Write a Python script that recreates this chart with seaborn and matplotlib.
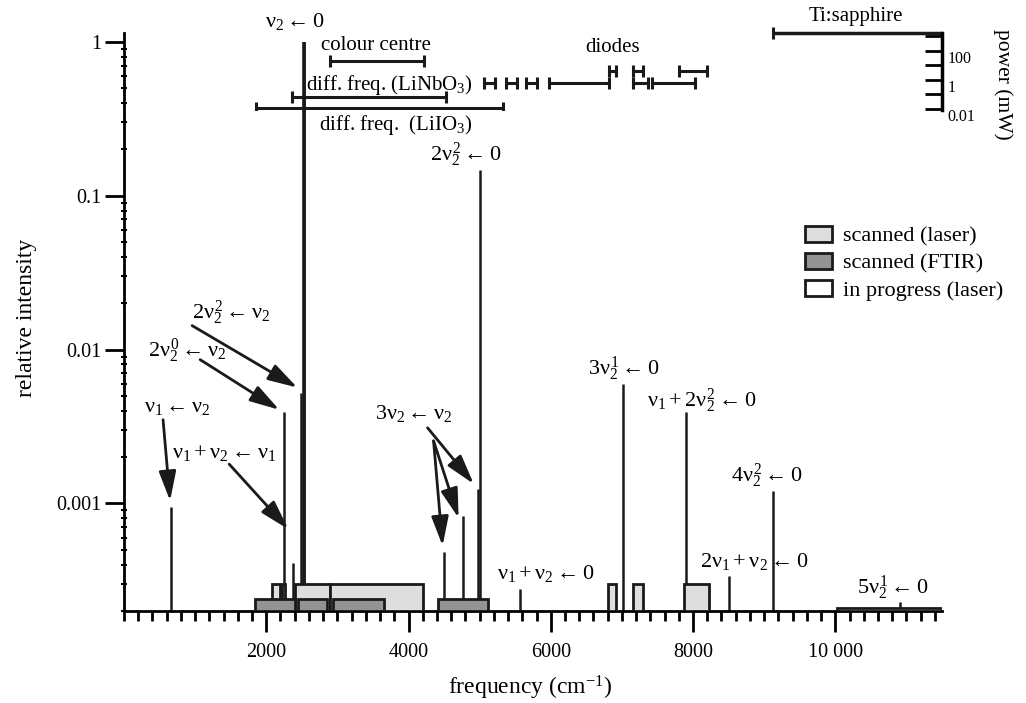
import numpy as np
import seaborn as sns
import matplotlib
matplotlib.use("Agg")
import matplotlib.pyplot as plt
from matplotlib.patches import Patch
from matplotlib.ticker import FixedLocator, FuncFormatter, LogLocator, NullFormatter, MultipleLocator

# spectral lines: frequency (cm-1) and relative intensity
line_freq = [660, 2254, 2380, 2493, 2535, 4493, 4761, 4975, 5010, 5563, 7014, 7902, 8507, 9127, 10916]
line_int = [9.5e-4, 3.9e-3, 4.1e-4, 5.25e-3, 1.0, 4.8e-4, 8.3e-4, 1.24e-3, 0.147,
            2.77e-4, 6.0e-3, 3.95e-3, 3.37e-4, 1.21e-3, 2.28e-4]

# scanned regions (cm-1)
laser_start = [2080, 2220, 2400, 2900, 6805, 7150, 7875]
laser_end = [2200, 2268, 2900, 4200, 6916, 7290, 8225]
ftir_start = [1845, 2450, 2945, 4410]
ftir_end = [2408, 2860, 3660, 5113]
progress_start = [10030]
progress_end = [11500]
laser_level = 3.0e-4
ftir_level = 2.4e-4
progress_level = 2.1e-4

# laser sources: range (cm-1) and power (mW)
source_start = [2900, 2366, 1860, 5057, 5366, 5648, 5976, 6821, 7155, 7155, 7423, 7803]
source_end = [4211, 4521, 5324, 5222, 5531, 5813, 6821, 6915, 7296, 7366, 8028, 8197]
source_power = [20, 0.067, 0.012, 0.62, 0.62, 0.62, 0.62, 4.2, 4.2, 0.62, 0.62, 4.2]
tisa_start, tisa_end, tisa_power = 9127, 11500, 1700

y_bottom = 2e-4
light = "#dedede"
dark = "#939393"

sns.set_theme(style="ticks")
plt.rcParams["font.family"] = ["Liberation Serif", "DejaVu Serif"]
plt.rcParams["mathtext.fontset"] = "custom"
plt.rcParams["mathtext.rm"] = "Liberation Serif"
plt.rcParams["mathtext.it"] = "Liberation Serif"
plt.rcParams["mathtext.bf"] = "Liberation Serif:bold"
plt.rcParams["axes.edgecolor"] = "black"
plt.rcParams["xtick.color"] = "black"
plt.rcParams["ytick.color"] = "black"
plt.rcParams["text.color"] = "black"

W, H = 1026, 703
fig = plt.figure(figsize=(W / 100, H / 100), dpi=100)


def fxy(x, y):
    return x / W, 1 - y / H


ax = fig.add_axes([124 / W, 1 - 611 / H, 818 / W, 578 / H])
ax.set_xlim(0, 11500)
ax.set_yscale("log")
ax.set_ylim(y_bottom, 1.14)

# lines
ax.vlines(line_freq, y_bottom, line_int, colors="k", lw=1.8, zorder=2)
i_max = int(np.argmax(line_int))
ax.vlines(line_freq[i_max], y_bottom, line_int[i_max], colors="k", lw=2.6, zorder=2)

# scanned regions
def regions(starts, ends, level, fc):
    ax.bar(starts, level - y_bottom, width=np.subtract(ends, starts), bottom=y_bottom,
           align="edge", color=fc, edgecolor="k", lw=2, zorder=3)

regions(laser_start, laser_end, laser_level, light)
regions(ftir_start, ftir_end, ftir_level, dark)
regions(progress_start, progress_end, progress_level, "white")

# axes style
for s in ["top", "right"]:
    ax.spines[s].set_visible(False)
for s in ["left", "bottom"]:
    ax.spines[s].set_linewidth(2)
ax.set_zorder(1)
ax.patch.set_alpha(0)
ax.xaxis.set_major_locator(FixedLocator([2000, 4000, 6000, 8000, 10000]))
ax.xaxis.set_minor_locator(MultipleLocator(200))
ax.xaxis.set_major_formatter(FuncFormatter(
    lambda v, p: f"{int(v):,}".replace(",", " ") if v >= 10000 else f"{int(v)}"))
ax.tick_params(axis="x", which="major", direction="out", length=15, width=2, labelsize=14.5, pad=8)
ax.tick_params(axis="x", which="minor", direction="out", length=7.5, width=2)
ax.yaxis.set_major_locator(FixedLocator([1e-3, 1e-2, 1e-1, 1]))
ax.yaxis.set_major_formatter(FuncFormatter(lambda v, p: f"{v:g}"))
ax.yaxis.set_minor_locator(LogLocator(base=10, subs=range(2, 10), numticks=20))
ax.yaxis.set_minor_formatter(NullFormatter())
ax.tick_params(axis="y", which="major", direction="out", length=14, width=2, labelsize=14.5, pad=2)
ax.tick_params(axis="y", which="minor", direction="inout", length=5, width=1.5)

# labels on lines
fs = 16
labels = [
    (r"$\nu_2 \leftarrow 0$", 2408, 1.35),
    (r"$2\nu_2^2 \leftarrow 0$", 4803, 0.184),
    (r"$3\nu_2^1 \leftarrow 0$", 7028, 0.0075),
    (r"$\nu_1 + 2\nu_2^2 \leftarrow 0$", 8127, 0.00466),
    (r"$4\nu_2^2 \leftarrow 0$", 9043, 0.00151),
    (r"$2\nu_1 + \nu_2 \leftarrow 0$", 8859, 4.2e-4),
    (r"$\nu_1 + \nu_2 \leftarrow 0$", 5930, 3.52e-4),
    (r"$5\nu_2^1 \leftarrow 0$", 10803, 2.82e-4),
    (r"$3\nu_2 \leftarrow \nu_2$", 4070, 3.83e-3),
    (r"$2\nu_2^2 \leftarrow \nu_2$", 1507, 0.0174),
    (r"$2\nu_2^0 \leftarrow \nu_2$", 887, 0.00985),
    (r"$\nu_1 \leftarrow \nu_2$", 746, 0.0042),
    (r"$\nu_1 + \nu_2 \leftarrow \nu_1$", 1408, 0.00213),
]
for txt, x, y in labels:
    ax.text(x, y, txt, ha="center", va="center", fontsize=fs, clip_on=False, zorder=5)

# arrows (start -> tip)
arrows = [
    ((958, 0.0143), (2437, 0.00566)),
    ((1070, 0.0086), (2183, 0.00406)),
    ((549, 0.0035), (648, 0.00104)),
    ((1479, 0.0018), (2310, 6.8e-4)),
    ((4268, 3.1e-3), (4916, 1.34e-3)),
    ((4352, 2.55e-3), (4704, 8.05e-4)),
    ((4352, 2.55e-3), (4479, 5.3e-4)),
]
for start, tip in arrows:
    ax.annotate("", xy=tip, xytext=start,
                arrowprops=dict(arrowstyle="-|>,head_length=1.2,head_width=0.35",
                                color="k", lw=2, shrinkA=0, shrinkB=0, mutation_scale=15),
                zorder=5)

# power axis with laser sources
ax_p = fig.add_axes([124 / W, 1 - 110 / H, 818 / W, 77 / H], sharex=ax)
ax_p.set_yscale("log")
ax_p.set_ylim(0.0085, 1700)
ax_p.patch.set_alpha(0)
for s in ["top", "left", "bottom"]:
    ax_p.spines[s].set_visible(False)
ax_p.spines["right"].set_linewidth(2.5)
ax_p.yaxis.tick_right()
ax_p.yaxis.set_major_locator(FixedLocator([0.01, 0.1, 1, 10, 100, 1000]))
ax_p.yaxis.set_minor_locator(FixedLocator([]))
ax_p.yaxis.set_major_formatter(FuncFormatter(lambda v, p: f"{v:g}" if v in (0.01, 1, 100) else ""))
ax_p.tick_params(axis="y", which="major", direction="in", length=12, width=2, labelsize=11.5, pad=4)
ax_p.tick_params(axis="x", which="both", bottom=False, labelbottom=False)
for lbl in ax_p.get_yticklabels():
    lbl.set_va("top")

mid = (np.array(source_start) + np.array(source_end)) / 2
half = (np.array(source_end) - np.array(source_start)) / 2
ax_p.errorbar(mid, source_power, xerr=half, fmt="none", ecolor="k",
              elinewidth=2.2, capsize=4.5, capthick=2.2)
ax_p.hlines(tisa_power, tisa_start, tisa_end, colors="k", lw=2.5, clip_on=False)
ax_p.plot([tisa_start], [tisa_power], marker="|", ms=9, mew=2.2, color="k", clip_on=False)

fig.text(*fxy(376, 46), "colour centre", ha="center", va="center", fontsize=15)
fig.text(*fxy(389, 85), "diff. freq. (LiNbO$_3$)", ha="center", va="center", fontsize=15)
fig.text(*fxy(396, 125), "diff. freq.  (LiIO$_3$)", ha="center", va="center", fontsize=15)
fig.text(*fxy(613, 48), "diodes", ha="center", va="center", fontsize=15)
fig.text(*fxy(856, 17), "Ti:sapphire", ha="center", va="center", fontsize=15)
fig.text(*fxy(1003, 84), "power (mW)", ha="center", va="center", fontsize=15.5, rotation=270)

fig.text(*fxy(27, 318), "relative intensity", ha="center", va="center", fontsize=17, rotation=90)
fig.text(*fxy(530, 688), "frequency (cm$^{-1}$)", ha="center", va="center", fontsize=17)

handles = [Patch(facecolor=light, edgecolor="k", lw=2, label="scanned (laser)"),
           Patch(facecolor=dark, edgecolor="k", lw=2, label="scanned (FTIR)"),
           Patch(facecolor="white", edgecolor="k", lw=2, label="in progress (laser)")]
fig.legend(handles=handles, loc="upper left", bbox_to_anchor=fxy(805, 226), frameon=False,
           fontsize=16, handlelength=1.2, handleheight=0.7, handletextpad=0.5,
           labelspacing=0.3, borderpad=0, borderaxespad=0)

fig.savefig("out.png", dpi=100)
